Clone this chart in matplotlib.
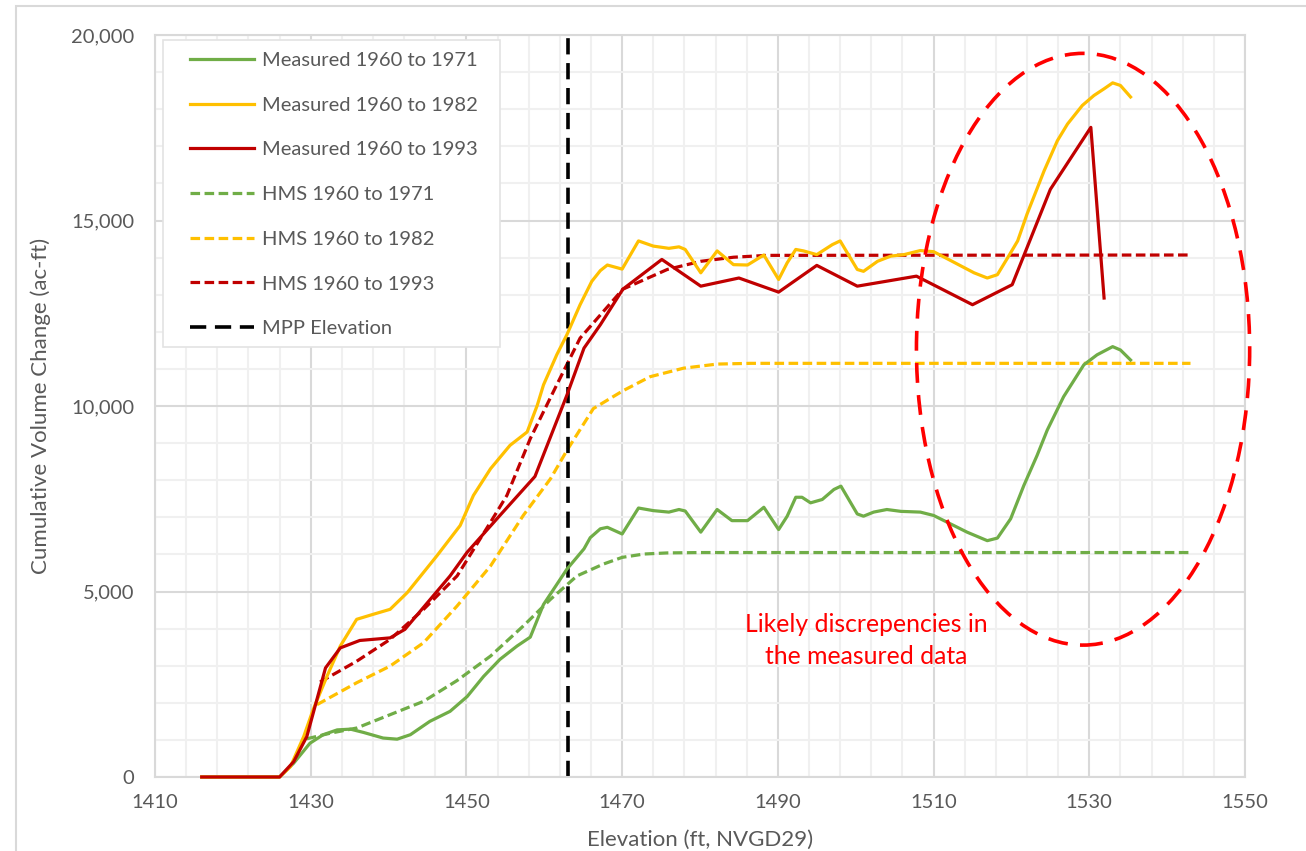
import matplotlib
matplotlib.use("Agg")
import numpy as np
import matplotlib.pyplot as plt
from matplotlib.patches import Ellipse, Rectangle
from matplotlib.ticker import FixedLocator, FuncFormatter

plt.rcParams['font.family'] = ['Lato', 'DejaVu Sans']

# ---- Measured cumulative volume change (elevation ft, volume ac-ft) ----
meas71_x = [1416, 1426, 1427.8, 1429.9, 1431.6, 1433.4, 1435.1, 1436.8, 1439.3, 1441.1,
            1442.8, 1445.3, 1447.9, 1450.1, 1452.2, 1454.3, 1456.5, 1458.2, 1459.9, 1462.9,
            1465.1, 1465.9, 1467.2, 1468.1, 1470.0, 1472.1, 1474.0, 1476.0, 1477.3, 1478.1,
            1480.1, 1482.2, 1484.1, 1486.1, 1488.2, 1490.1, 1491.2, 1492.3, 1493.1, 1494.2,
            1495.7, 1497.2, 1498.1, 1500.2, 1501.0, 1502.3, 1504.0, 1505.8, 1508.3, 1510.0,
            1512.2, 1514.3, 1516.9, 1518.2, 1519.9, 1521.6, 1523.3, 1524.6, 1526.7, 1529.3,
            1531.0, 1533.0, 1534.0, 1535.3]
meas71_y = [0, 0, 370, 910, 1140, 1270, 1290, 1200, 1050, 1020,
            1140, 1500, 1770, 2170, 2710, 3170, 3530, 3770, 4650, 5600,
            6150, 6450, 6690, 6730, 6550, 7250, 7180, 7140, 7210, 7170,
            6600, 7210, 6910, 6910, 7270, 6670, 7030, 7540, 7540, 7390,
            7480, 7750, 7840, 7090, 7030, 7140, 7210, 7160, 7140, 7050,
            6820, 6600, 6370, 6440, 6960, 7860, 8670, 9350, 10250, 11110,
            11380, 11600, 11510, 11240]

meas82_x = [1416, 1426, 1427.4, 1429.1, 1430.3, 1432.1, 1433.8, 1435.9, 1438.1, 1440.2,
            1442.4, 1446.2, 1449.2, 1450.9, 1453.1, 1455.6, 1457.8, 1459.1, 1459.9, 1461.6,
            1462.9, 1464.6, 1466.1, 1467.2, 1468.1, 1470.0, 1472.1, 1474.0, 1476.0, 1477.3,
            1478.1, 1480.1, 1482.2, 1484.3, 1486.1, 1488.2, 1490.1, 1491.2, 1492.3, 1493.3,
            1495.0, 1497.0, 1498.0, 1500.2, 1501.0, 1502.8, 1504.5, 1506.2, 1508.3, 1510.0,
            1512.2, 1515.2, 1516.9, 1518.2, 1519.5, 1520.8, 1522.0, 1524.2, 1525.9, 1527.2,
            1529.1, 1530.6, 1531.9, 1533.0, 1534.0, 1535.3]
meas82_y = [0, 0, 280, 1090, 1810, 2720, 3530, 4250, 4390, 4520,
            4970, 5960, 6780, 7590, 8310, 8940, 9300, 10020, 10570, 11380,
            11920, 12730, 13360, 13650, 13800, 13690, 14450, 14310, 14250, 14290,
            14220, 13590, 14180, 13810, 13800, 14070, 13410, 13860, 14220, 14180,
            14080, 14350, 14450, 13680, 13630, 13900, 14040, 14080, 14190, 14160,
            13920, 13590, 13450, 13540, 13990, 14450, 15170, 16340, 17150, 17600,
            18100, 18370, 18550, 18710, 18640, 18330]

meas93_x = [1416, 1426, 1427.8, 1429.5, 1431.9, 1433.8, 1436.3, 1440.2, 1442.1, 1447.9,
            1450.1, 1454.3, 1458.8, 1462.9, 1465.1, 1467.2, 1470.1, 1475.1, 1480.1, 1485.0,
            1490.1, 1495.0, 1500.2, 1507.8, 1515.0, 1520.1, 1525.0, 1530.2, 1531.9]
meas93_y = [0, 0, 410, 1090, 2940, 3480, 3680, 3750, 3980, 5420,
            6060, 7050, 8100, 10290, 11560, 12190, 13150, 13950, 13230, 13450,
            13070, 13790, 13230, 13500, 12730, 13270, 15840, 17510, 12910]

# ---- HMS simulated cumulative volume change ----
hms71_x = [1429.5, 1432.5, 1435.9, 1440.2, 1444.5, 1448.8, 1453.1, 1457.3, 1460.8, 1464.2,
           1467.6, 1470.0, 1472.8, 1475.8, 1480.0, 1543.0]
hms71_y = [1030, 1180, 1320, 1680, 2040, 2600, 3260, 4070, 4790, 5420,
           5740, 5920, 6010, 6040, 6050, 6050]

hms82_x = [1430.8, 1435.9, 1440.2, 1444.5, 1448.8, 1453.1, 1457.3, 1460.8, 1462.9, 1466.3,
           1470.1, 1473.6, 1477.9, 1482.2, 1486.5, 1543.0]
hms82_y = [1950, 2540, 2990, 3620, 4610, 5690, 7050, 8040, 8800, 9930,
           10410, 10790, 11020, 11130, 11150, 11150]

hms93_x = [1431.2, 1435.9, 1440.2, 1444.5, 1448.8, 1453.1, 1455.2, 1458.2, 1461.6, 1464.6,
           1467.6, 1470.1, 1475.8, 1480.1, 1484.3, 1488.6, 1543.0]
hms93_y = [2560, 3120, 3710, 4520, 5420, 6870, 7590, 9120, 10570, 11830,
           12550, 13150, 13680, 13900, 14010, 14060, 14070]

mpp_elevation = 1463
y_span = [0, 20000]

labels = ["Measured 1960 to 1971", "Measured 1960 to 1982", "Measured 1960 to 1993",
          "HMS 1960 to 1971", "HMS 1960 to 1982", "HMS 1960 to 1993", "MPP Elevation"]

GREEN, GOLD, DARKRED = "#70AD47", "#FFC000", "#C00000"
TEXT = "#595959"

W, H = 1306, 851
fig = plt.figure(figsize=(W / 100, H / 100), dpi=100)
ax = fig.add_axes([155 / W, 1 - 777 / H, (1245 - 155) / W, (777 - 35) / H])

lw = 2.3
dash = (0, (3.0, 1.4))
solid_kw = dict(lw=lw, solid_joinstyle='round', clip_on=False, zorder=3)
ax.plot(meas71_x, meas71_y, color=GREEN, label=labels[0], **solid_kw)
ax.plot(meas82_x, meas82_y, color=GOLD, label=labels[1], **solid_kw)
ax.plot(meas93_x, meas93_y, color=DARKRED, label=labels[2], **solid_kw)
ax.plot(hms71_x, hms71_y, color=GREEN, lw=lw, ls=dash, label=labels[3])
ax.plot(hms82_x, hms82_y, color=GOLD, lw=lw, ls=dash, label=labels[4])
ax.plot(hms93_x, hms93_y, color=DARKRED, lw=lw, ls=dash, label=labels[5])
ax.plot([mpp_elevation, mpp_elevation], y_span, color="black", lw=2.6,
        ls=(0, (4.5, 2.4)), label=labels[6])

ax.set_xlim(1410, 1550)
ax.set_ylim(0, 20000)
ax.xaxis.set_major_locator(FixedLocator(np.arange(1410, 1551, 20)))
ax.xaxis.set_minor_locator(FixedLocator(np.arange(1410, 1551, 4)))
ax.yaxis.set_major_locator(FixedLocator(np.arange(0, 20001, 5000)))
ax.yaxis.set_minor_locator(FixedLocator(np.arange(0, 20001, 1000)))
ax.yaxis.set_major_formatter(FuncFormatter(lambda v, p: f"{int(v):,}"))

ax.set_axisbelow(True)
ax.grid(which="major", color="#d9d9d9", lw=1.5)
ax.grid(which="minor", color="#f0f0f0", lw=1.5)
for s in ax.spines.values():
    s.set_color("#d9d9d9")
    s.set_linewidth(1.5)
ax.tick_params(which="both", length=0)
ax.tick_params(axis="y", pad=15, labelsize=14.5, labelcolor=TEXT)
ax.tick_params(axis="x", pad=12, labelsize=14.5, labelcolor=TEXT)

ax.set_xlabel("Elevation (ft, NVGD29)", fontsize=16, color=TEXT, labelpad=14)
ax.set_ylabel("Cumulative Volume Change (ac-ft)", fontsize=16, color=TEXT, labelpad=14)

# Highlight of the suspect measured data region
ell = Ellipse((1529.2, 11530), 42.8, 15950, fill=False, edgecolor="#FF0000", lw=2.6,
              ls=(0, (5.5, 3.4)), clip_on=False, zorder=6)
ax.add_patch(ell)
ax.text(1501.3, 3680, "Likely discrepencies in\nthe measured data", color="#FF0000",
        fontsize=17.8, ha="center", va="center", linespacing=1.45)

# Legend panel
ax.add_patch(Rectangle((163 / W, 1 - 347 / H), (500 - 163) / W, (347 - 40) / H,
                       transform=fig.transFigure, facecolor="white", edgecolor="#e3e3e3",
                       lw=1.2, zorder=4.5, clip_on=False))
leg = ax.legend(loc="upper left", bbox_to_anchor=(190 / W, 1 - 52 / H),
                bbox_transform=fig.transFigure, frameon=False, fontsize=14.5,
                handlelength=3.2, handletextpad=0.4, labelspacing=1.37,
                borderpad=0, borderaxespad=0)
leg.set_zorder(5)
for t in leg.get_texts():
    t.set_color(TEXT)

# Outer chart border
fig.add_artist(Rectangle((16 / W, -0.1), 2.0, 1 - 6 / H + 0.1, transform=fig.transFigure,
                         fill=False, edgecolor="#d9d9d9", lw=1.5))

fig.savefig("out.png", dpi=100)
